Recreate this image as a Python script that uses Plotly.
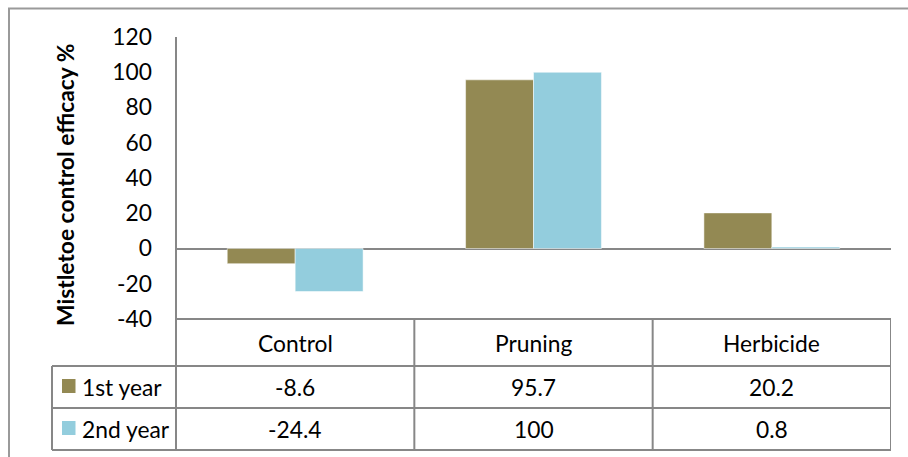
import plotly.graph_objects as go

# Data
categories = ["Control", "Pruning", "Herbicide"]
series_names = ["1st year", "2nd year"]
first_year = [-8.6, 95.7, 20.2]
second_year = [-24.4, 100, 0.8]
series_values = [first_year, second_year]
series_colors = ["#938953", "#93CDDD"]
y_ticks = [-40, -20, 0, 20, 40, 60, 80, 100, 120]
y_tick_labels = ["-40", "-20", "0", "20", "40", "60", "80", "100", "120"]

W, H = 908, 457
L, R, T, B = 176, 891, 37, 319  # plot area in pixels

FONT = "Lato"
FS = 22.8
GRID = "#878787"


def px(xp):
    return (xp - L) / (R - L)


def py(yp):
    return (B - yp) / (B - T)


fig = go.Figure()
for name, vals, col in zip(series_names, series_values, series_colors):
    fig.add_trace(go.Bar(
        x=categories, y=vals, name=name,
        marker=dict(color=col, line=dict(color="rgba(255,255,255,0.5)", width=1)),
        showlegend=False,
    ))

shapes = []
# outer chart border (open on right/bottom edges of the page)
shapes.append(dict(type="rect", xref="paper", yref="paper",
                   x0=px(9), x1=px(960), y0=py(500), y1=py(8.5),
                   line=dict(color="#9a9a9a", width=2), layer="below"))

# data table rows
row_lines = [319, 366, 408, 450]
for i, yl in enumerate(row_lines):
    x_start = L if i == 0 else 52
    shapes.append(dict(type="line", xref="paper", yref="paper",
                       x0=px(x_start), x1=px(R), y0=py(yl), y1=py(yl),
                       line=dict(color=GRID, width=2)))
# data table columns
shapes.append(dict(type="line", xref="paper", yref="paper",
                   x0=px(52), x1=px(52), y0=py(366), y1=py(450),
                   line=dict(color=GRID, width=2)))
shapes.append(dict(type="line", xref="paper", yref="paper",
                   x0=0, x1=0, y0=py(450), y1=1,
                   line=dict(color=GRID, width=2)))
for k in range(len(categories)):
    shapes.append(dict(type="line", xref="x", yref="paper",
                       x0=k + 0.5, x1=k + 0.5, y0=py(450), y1=0,
                       line=dict(color=GRID, width=2)))

txt_font = dict(family=FONT, size=FS, color="#000")
annotations = []
# column headers
for k, c in enumerate(categories):
    annotations.append(dict(x=k, xref="x", y=py(342.5), yref="paper",
                            xanchor="center", yanchor="middle",
                            text=c, showarrow=False, font=txt_font))
# row headers with legend keys and values
row_centers = [387, 429]
for name, vals, col, yc in zip(series_names, series_values, series_colors, row_centers):
    shapes.append(dict(type="rect", xref="paper", yref="paper",
                       x0=px(62), x1=px(75.5), y0=py(yc - 8), y1=py(yc + 6),
                       fillcolor=col, line=dict(width=0)))
    annotations.append(dict(x=px(80), xref="paper", y=py(yc), yref="paper",
                            xanchor="left", yanchor="middle",
                            text=name, showarrow=False, font=txt_font))
    for k, v in enumerate(vals):
        annotations.append(dict(x=k, xref="x", y=py(yc), yref="paper",
                                xanchor="center", yanchor="middle",
                                text=f"{v:g}", showarrow=False, font=txt_font))

# axis title
annotations.append(dict(x=px(65), xref="paper", y=py(185), yref="paper",
                        xanchor="center", yanchor="middle",
                        text="<b>Mistletoe control efficacy %</b>", textangle=-90,
                        showarrow=False, font=txt_font))

fig.update_layout(
    width=W, height=H,
    margin=dict(l=L, r=W - R, t=T, b=H - B),
    paper_bgcolor="white", plot_bgcolor="white",
    barmode="group", bargap=0.43, bargroupgap=0,
    shapes=shapes, annotations=annotations,
    xaxis=dict(range=[-0.5, 2.5], showticklabels=False, showline=False,
               showgrid=False, zeroline=False, fixedrange=True),
    yaxis=dict(range=[-40, 120], tickvals=y_ticks, ticktext=y_tick_labels,
               showgrid=False, showline=False, zeroline=True,
               zerolinecolor=GRID, zerolinewidth=2,
               ticks="", ticklabelstandoff=23, tickfont=txt_font),
)

fig.write_html("out.html")
